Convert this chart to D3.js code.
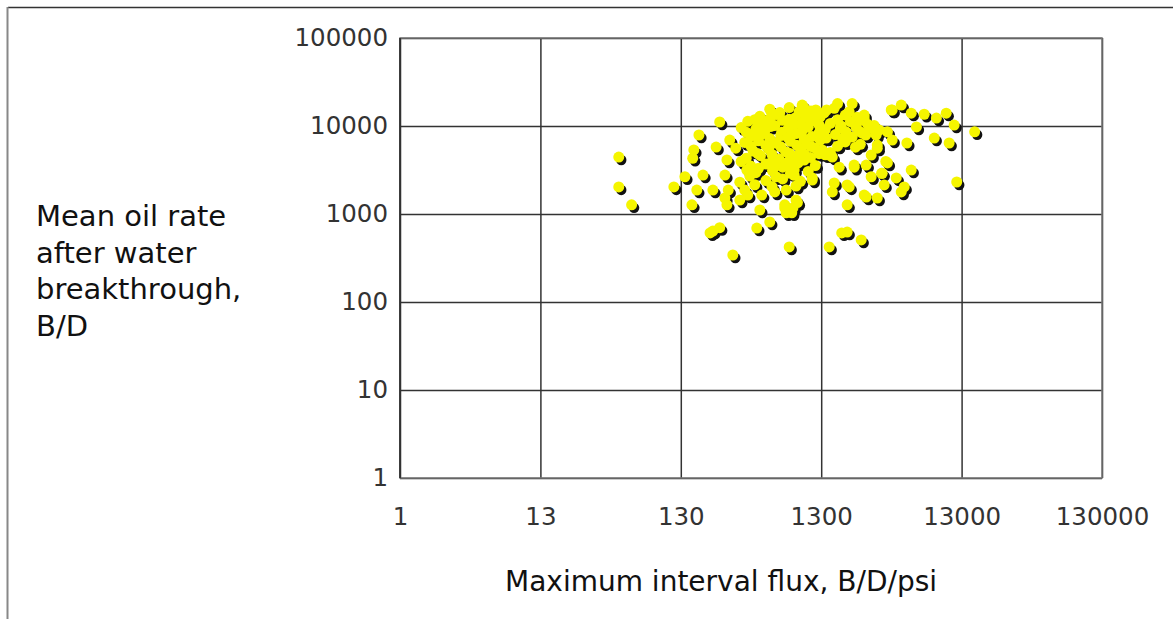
<!DOCTYPE html>
<html>
<head>
<meta charset="utf-8">
<script src="https://cdn.jsdelivr.net/npm/d3@7"></script>
<style>
  body { margin: 0; background: #fff; }
  svg { display: block; }
  .tick text { font-family: "DejaVu Sans", Verdana, sans-serif; fill: #333; }
</style>
</head>
<body>
<div id="chart"></div>
<script>
// tick positions and their printed labels
var xTicks = [1.3, 13, 130, 1300, 13000, 130000],
    xLabels = ['1', '13', '130', '1300', '13000', '130000'],
    yTicks = [1, 10, 100, 1000, 10000, 100000],
    yLabels = ['1', '10', '100', '1000', '10000', '100000'];

// [max interval flux B/D/psi, mean oil rate B/D]
var leftWells = [
  [47,4440],[47,2030],[58,1270],[116,2030],[139,2650],[156,1270],[161,5340],[158,4300],
  [175,7900],[187,2770],[169,1870],[220,1870],[232,5770],[220,640],[246,700],[210,610],
  [290,6930],[277,4110],[268,2770],[268,1520],[277,1270],[305,342],[320,5600],[342,1440],
  [371,1870],[384,3160],[452,693],[475,1110],[559,811],[715,1170],[769,422],[802,1030],
  [246,11100],[283,1870],[463,8320],[390,1640],[490,1640],[607,1780],[715,1270],[860,2080],
  [880,1350],[1122,2435]
];

var coreWells = [
  [559,15500],[769,16200],[1100,14800],[1609,15900],
  [475,12900],[620,13500],[850,12400],[1000,13100],[1280,12700],[1930,13300],[2340,12600],
  [390,11300],[505,10900],[690,11600],[925,10800],[1180,11400],[1510,10700],[2100,11200],[2780,10500],
  [350,9600],[445,9200],[570,9900],[755,9300],[1050,9700],[1390,9100],[1780,9500],[2300,9800],
  [410,7700],[490,8100],[670,7800],[860,8200],[1120,7600],[1640,8000],[2160,7500],[2700,7900],
  [371,6500],[465,6800],[620,6400],[785,6700],[1000,6300],[1280,6900],[1930,6600],[2470,6200],
  [425,5200],[550,5500],[725,5100],[925,5400],[1180,5600],[1510,5000],
  [380,4300],[480,4600],[650,4200],[850,4500],[1090,4400],[1390,4700],
  [410,3500],[525,3700],[690,3400],[890,3800],[1180,3550],
  [445,2950],[585,3100],[785,2900],[1050,3050],
  [525,2400],[690,2500],[925,2350],
  [659,14200],[906,14600],[1365,14100],[2057,14500],
  [437,11800],[559,12100],[769,11900],[1067,12000],[1700,11800],[2505,11600],
  [460,10300],[607,10100],[835,10400],[1258,10200],[1800,10000],[3100,10100],
  [380,8500],[515,8700],[680,8500],[950,8800],[1258,8400],[1950,8600],[2424,8700],
  [559,7200],[755,7400],[984,7100],[1410,7300],[1850,7200],
  [410,5900],[525,6000],[670,5800],[870,6050],[1100,5850],[1700,5900],[2280,5750],
  [460,4850],[580,4750],[769,4900],[984,4800],[1258,4850],
  [350,3950],[585,4050],[755,3900],[984,4100],
  [465,3300],[607,3450],[790,3350],
  [403,2700],[620,2650],[835,2750],
  [580,2050],[437,2150],[342,2300]
];

var rightWells = [
  [984,16000],[1190,15200],[1420,15200],[1700,18000],[2160,18000],[2630,13300],[2950,9500],
  [3850,8600],[4100,15200],[3260,6080],[2950,4680],[2720,3600],[2230,3600],[1746,3400],
  [1560,4440],[2950,2650],[3500,2900],[3850,3800],[3650,2140],[2630,1640],[1609,2250],
  [1560,1780],[1990,2140],[952,17300],[1122,14000],[2630,12300],[4165,15200],[4830,17300],
  [5690,14000],[6200,9750],[8600,12300],[8300,7300],[10100,14000],[11500,10260],[10600,6410],
  [16100,8600],[12000,2310],[5300,6410],[4165,6930],[3260,5600],[3750,3950],[3535,2900],
  [4450,2570],[5690,3160],[5071,2030],[4830,1780],[3260,1520],[2720,1560],[2057,2030],
  [1990,1270],[2233,3400],[1122,2570],[835,3160],[732,1870],[860,1440],[732,1030],[818,1170],
  [1820,610],[1990,624],[2505,507],[1482,422],[1482,4680],[1321,5340],[3200,7900],[3365,9000],
  [2550,8320],[7040,13600]
];

var width = 1173,
    height = 619,
    margin = {top: 38, right: 71, bottom: 141, left: 400},
    plotW = width - margin.left - margin.right,
    plotH = height - margin.top - margin.bottom;

var svg = d3.select('#chart')
  .append('svg')
  .attr('width', width)
  .attr('height', height);

// outer frame (only top and left edges show)
svg.append('line').attr('x1', 8).attr('x2', width).attr('y1', 7.5).attr('y2', 7.5)
  .attr('stroke', '#333').attr('stroke-width', 1.5);
svg.append('line').attr('x1', 7.5).attr('x2', 7.5).attr('y1', 7).attr('y2', height)
  .attr('stroke', '#888').attr('stroke-width', 2);

var x = d3.scaleLog().domain([1.3, 130000]).range([0, plotW]);
var y = d3.scaleLog().domain([1, 100000]).range([plotH, 0]);

var g = svg.append('g')
  .attr('transform', 'translate(' + margin.left + ',' + margin.top + ')');

// grid
g.append('g')
  .attr('transform', 'translate(0,' + plotH + ')')
  .call(d3.axisBottom(x).tickValues(xTicks).tickSize(-plotH).tickFormat(''))
  .call(function(s) { s.select('.domain').remove(); })
  .selectAll('line').attr('stroke', '#333').attr('stroke-width', 1.5);

g.append('g')
  .call(d3.axisLeft(y).tickValues(yTicks).tickSize(-plotW).tickFormat(''))
  .call(function(s) { s.select('.domain').remove(); })
  .selectAll('line').attr('stroke', '#333').attr('stroke-width', 1.5);

g.append('rect')
  .attr('width', plotW).attr('height', plotH)
  .attr('fill', 'none').attr('stroke', '#777').attr('stroke-width', 1.5);
g.append('line').attr('y1', 0).attr('y2', plotH)
  .attr('stroke', '#222').attr('stroke-width', 1.5);

// tick labels
var xAxis = g.append('g')
  .attr('transform', 'translate(0,' + plotH + ')')
  .call(d3.axisBottom(x).tickValues(xTicks).tickSize(0).tickPadding(30)
    .tickFormat(function(d, i) { return xLabels[i]; }));
xAxis.select('.domain').remove();
xAxis.selectAll('text').attr('font-size', 24.5);

var yAxis = g.append('g')
  .call(d3.axisLeft(y).tickValues(yTicks).tickSize(0).tickPadding(12)
    .tickFormat(function(d, i) { return yLabels[i]; }));
yAxis.select('.domain').remove();
yAxis.selectAll('text').attr('font-size', 24.5);

// points: black drop shadows underneath, yellow dots on top
var allWells = leftWells.concat(coreWells, rightWells);
function place(d) { return 'translate(' + x(d[0]) + ',' + y(d[1]) + ')'; }

g.append('g').selectAll('circle')
  .data(allWells)
  .enter()
  .append('circle')
  .attr('transform', place)
  .attr('cx', 2.5).attr('cy', 3)
  .attr('r', 5.2)
  .attr('fill', '#111');

g.append('g').selectAll('circle')
  .data(allWells)
  .enter()
  .append('circle')
  .attr('transform', place)
  .attr('r', 5.5)
  .attr('fill', '#f5f500');

// axis titles
svg.append('text')
  .attr('x', 505).attr('y', 591)
  .attr('font-family', '"DejaVu Sans", Verdana, sans-serif')
  .attr('font-size', 28)
  .attr('fill', '#111')
  .text('Maximum interval flux, B/D/psi');

var yTitle = ['Mean oil rate', 'after water', 'breakthrough,', 'B/D'];
svg.append('text')
  .attr('font-family', '"DejaVu Sans", Verdana, sans-serif')
  .attr('font-size', 29)
  .attr('fill', '#111')
  .selectAll('tspan')
  .data(yTitle)
  .enter()
  .append('tspan')
  .attr('x', 36)
  .attr('y', function(d, i) { return 226 + i * 36.5; })
  .text(function(d) { return d; });
</script>
</body>
</html>
